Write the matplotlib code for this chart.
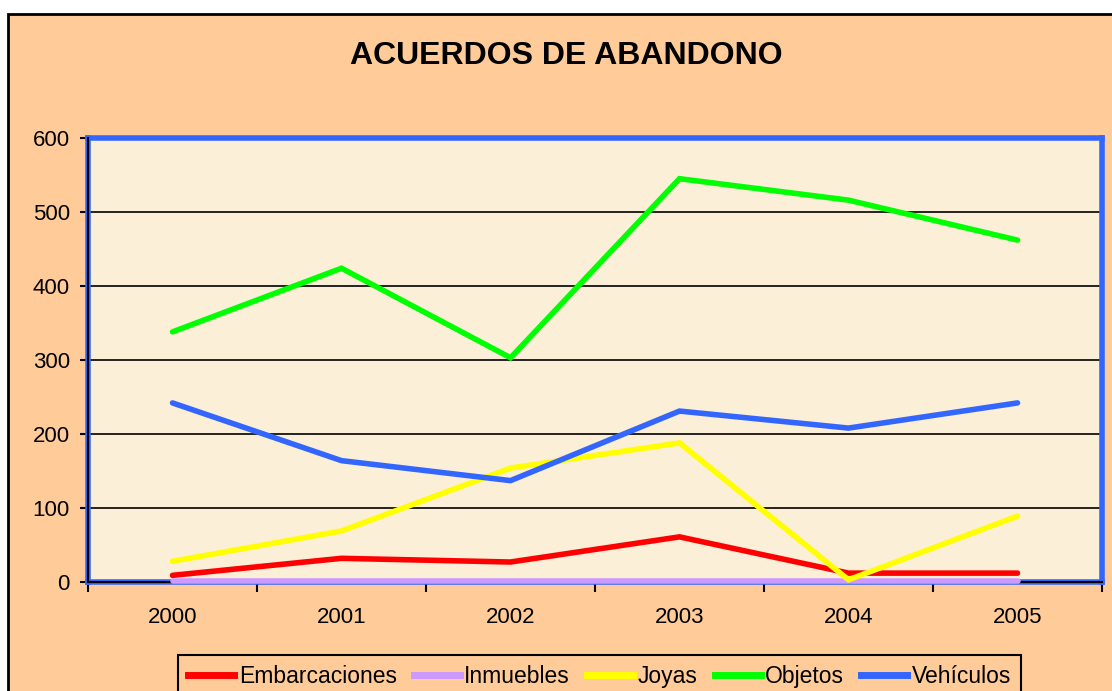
import matplotlib.pyplot as plt
import matplotlib.patches as mpatches
from matplotlib.lines import Line2D

# ------------------------------------------------------------------
# Data
# ------------------------------------------------------------------
years = ["2000", "2001", "2002", "2003", "2004", "2005"]
embarcaciones = [9, 32, 27, 61, 12, 12]
inmuebles = [2, 2, 2, 2, 2, 2]
joyas = [28, 69, 154, 188, 3, 89]
objetos = [338, 424, 303, 545, 516, 462]
vehiculos = [242, 164, 137, 231, 208, 242]

series = [
    ("Embarcaciones", embarcaciones, "#FF0000"),
    ("Inmuebles", inmuebles, "#CC99FF"),
    ("Joyas", joyas, "#FFFF00"),
    ("Objetos", objetos, "#00FF00"),
    ("Vehículos", vehiculos, "#3366FF"),
]

plt.rcParams['font.family'] = ['Liberation Sans', 'DejaVu Sans']

W, H = 1112, 691
fig = plt.figure(figsize=(W / 100, H / 100), dpi=100)
fig.patch.set_facecolor('white')

# chart area frame (peach, black border, cropped at right/bottom)
frame = mpatches.Rectangle((8 / W, -0.1), 1.2, 1 - 14 / H + 0.1,
                           transform=fig.transFigure, facecolor='#FFCC99',
                           edgecolor='black', linewidth=2, zorder=-10)
fig.add_artist(frame)

ax = fig.add_axes([88 / W, 1 - 582 / H, (1102 - 88) / W, (582 - 138) / H])
ax.set_zorder(2)
ax.set_facecolor('#FBEFD8')

x = list(range(len(years)))
for name, vals, col in series:
    ax.plot(x, vals, color=col, lw=4, label=name, solid_capstyle='round',
            solid_joinstyle='miter', zorder=4, clip_on=False)

ax.set_xlim(-0.5, len(years) - 0.5)
ax.set_ylim(0, 600)
ax.set_yticks(range(0, 601, 100))
for yv in range(100, 600, 100):
    ax.axhline(yv, color='black', lw=1.2, zorder=1)

# x ticks between categories, labels under categories
ax.set_xticks(x)
ax.set_xticklabels(years, fontsize=16)
ax.set_xticks([i - 0.5 for i in range(len(years) + 1)], minor=True)
ax.tick_params(axis='x', which='major', length=0, pad=18)
ax.tick_params(axis='x', which='minor', length=7, width=1.5, color='black', direction='out')
ax.tick_params(axis='y', length=6, width=1.5, direction='out', labelsize=16, pad=7)

for s in ax.spines.values():
    s.set_color('#3366FF')
    s.set_linewidth(4)
    s.set_zorder(3)
# black axis lines on left and bottom
ax.plot([0, 1], [0, 0], transform=ax.transAxes, color='black', lw=1.5,
        clip_on=False, zorder=3.5)
ax.plot([0, 0], [0, 1], transform=ax.transAxes, color='black', lw=1.5,
        clip_on=False, zorder=3.5)

fig.text(566 / W, 1 - 56 / H, "ACUERDOS DE ABANDONO", ha='center', va='center',
         fontsize=23, fontweight='bold')

handles = [Line2D([0], [0], color=c, lw=5) for _, _, c in series]
labels = [n for n, _, _ in series]
leg = fig.legend(handles, labels, loc='upper left', bbox_to_anchor=(178 / W, 1 - 655 / H),
                 ncol=5, fontsize=16.5, frameon=True, fancybox=False,
                 handlelength=2.0, handletextpad=0.2, columnspacing=0.75,
                 borderpad=0.45, borderaxespad=0)
leg.get_frame().set_facecolor('#FFCC99')
leg.get_frame().set_edgecolor('black')
leg.get_frame().set_linewidth(1.5)
leg.get_frame().set_alpha(1)

fig.savefig('out.png', dpi=100, facecolor=fig.get_facecolor())
